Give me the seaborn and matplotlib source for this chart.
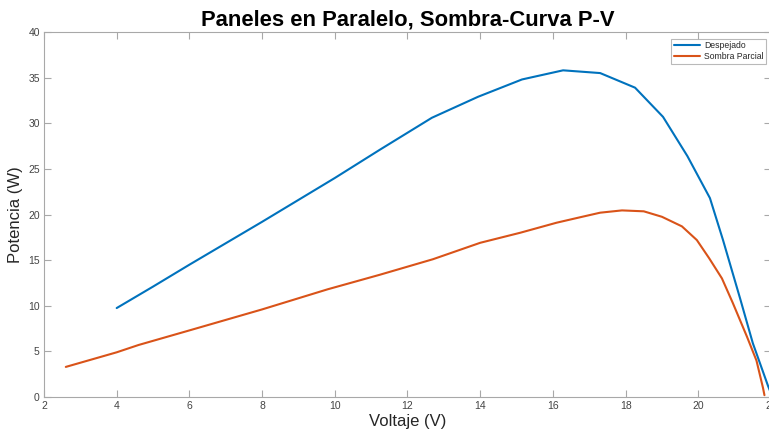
import matplotlib
matplotlib.use("Agg")
import matplotlib.pyplot as plt
import numpy as np
import pandas as pd
import seaborn as sns

# Curva P-V, paneles en paralelo
volt_despejado = [4.0, 5.0, 6.0, 7.0, 8.0, 9.0, 10.0, 11.24, 12.67, 13.94,
                  15.15, 16.28, 17.3, 18.26, 19.03, 19.7, 20.32, 20.68,
                  21.15, 21.5, 21.92, 22.0]
pot_despejado = [9.75, 12.1, 14.5, 16.85, 19.2, 21.6, 24.0, 27.1, 30.6, 32.9,
                 34.8, 35.8, 35.5, 33.9, 30.7, 26.4, 21.8, 17.2,
                 10.8, 5.9, 1.2, 0.4]

volt_sombra = [2.6, 4.0, 4.6, 6.0, 8.0, 9.8, 11.24, 12.7, 14.0, 15.1, 16.1,
               16.75, 17.3, 17.9, 18.5, 19.0, 19.55, 19.96, 20.3, 20.65,
               20.95, 21.34, 21.6, 21.78, 21.82]
pot_sombra = [3.3, 4.9, 5.7, 7.3, 9.6, 11.8, 13.4, 15.1, 16.9, 18.0, 19.1,
              19.7, 20.2, 20.45, 20.35, 19.75, 18.7, 17.2, 15.2, 13.0,
              10.3, 6.6, 4.0, 1.0, 0.2]

series = ["Despejado", "Sombra Parcial"]
colores = ["#0072BD", "#D95319"]

df = pd.concat([
    pd.DataFrame({"V": volt_despejado, "P": pot_despejado, "serie": series[0]}),
    pd.DataFrame({"V": volt_sombra, "P": pot_sombra, "serie": series[1]}),
])

sns.set_style("white")
plt.rcParams["font.family"] = ["Liberation Sans", "DejaVu Sans"]

fig = plt.figure(figsize=(7.69, 4.36), dpi=100)
ax = fig.add_axes([0.0572, 0.0894, 0.9454, 0.8372])

sns.lineplot(data=df, x="V", y="P", hue="serie", palette=colores,
             sort=False, estimator=None, linewidth=1.5, ax=ax)

ax.set_xlim(2, 22)
ax.set_ylim(0, 40)
ax.set_xticks(np.arange(2, 23, 2))
ax.set_yticks(np.arange(0, 41, 5))

grey = "#a8a8a8"
for s in ax.spines.values():
    s.set_visible(True)
    s.set_color(grey)
    s.set_linewidth(0.8)
ax.tick_params(direction="in", length=5, width=0.8, color=grey,
               labelsize=7.5, labelcolor="#444444", top=True, right=True,
               bottom=True, left=True, pad=3)

ax.set_title("Paneles en Paralelo, Sombra-Curva P-V", fontsize=15.8,
             fontweight="bold", pad=5, color="black")
ax.set_xlabel("Voltaje (V)", fontsize=12, color="#262626", labelpad=2)
ax.set_ylabel("Potencia (W)", fontsize=12, color="#262626", labelpad=4)

leg = ax.legend(loc="upper right", bbox_to_anchor=(0.996, 0.911),
                bbox_transform=fig.transFigure, fontsize=6.2,
                frameon=True, fancybox=False, handlelength=3.1,
                borderpad=0.3, labelspacing=0.2, handletextpad=0.4,
                borderaxespad=0)
leg.get_frame().set_edgecolor(grey)
leg.get_frame().set_linewidth(0.8)
leg.set_title(None)

fig.savefig("out.png", dpi=100)
